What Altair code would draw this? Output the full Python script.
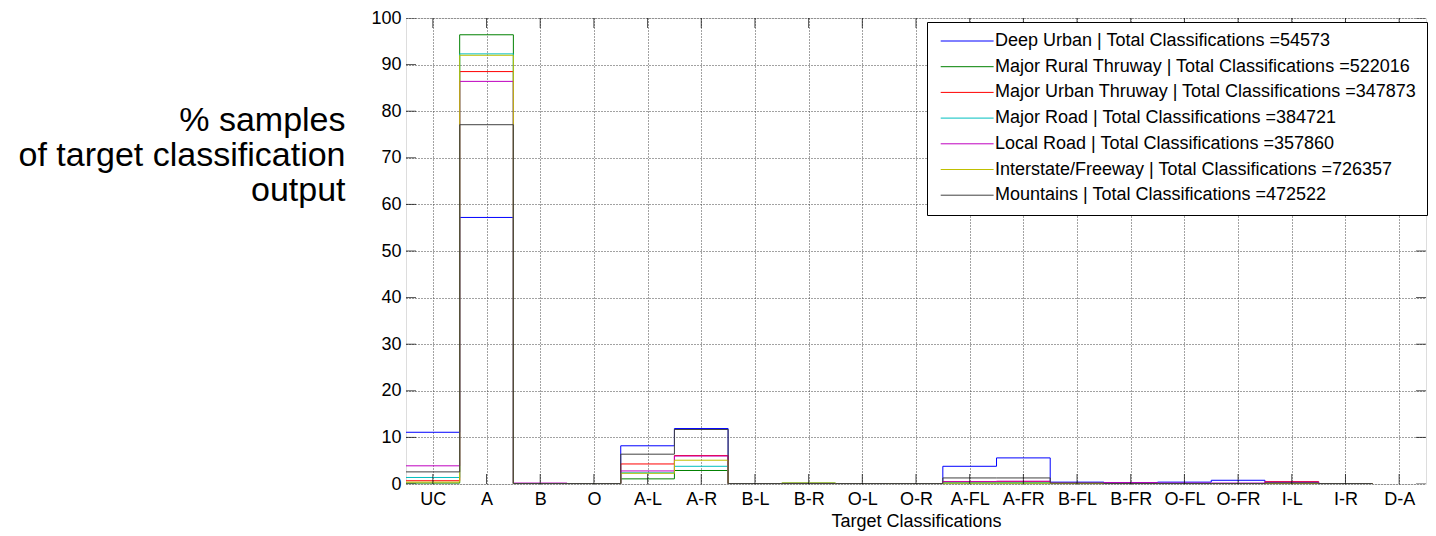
import altair as alt
import pandas as pd

categories = ["UC", "A", "B", "O", "A-L", "A-R", "B-L", "B-R", "O-L", "O-R",
              "A-FL", "A-FR", "B-FL", "B-FR", "O-FL", "O-FR", "I-L", "I-R", "D-A"]

series_names = ["Deep Urban", "Major Rural Thruway", "Major Urban Thruway", "Major Road",
                "Local Road", "Interstate/Freeway", "Mountains"]
totals = [54573, 522016, 347873, 384721, 357860, 726357, 472522]
colors = ["#0000ff", "#008000", "#ff0000", "#00bfbf", "#bf00bf", "#bfbf00", "#404040"]

deep_urban = [11.1, 57.2, 0.1, 0.1, 8.2, 11.9, 0.1, 0.1, 0.1, 0.1, 3.8, 5.6, 0.4, 0.3, 0.4, 0.8, 0.4, 0.1, 0.0]
major_rural = [0.2, 96.4, 0.05, 0.1, 1.1, 2.9, 0.1, 0.2, 0.1, 0.1, 0.2, 0.2, 0.1, 0.2, 0.1, 0.1, 0.2, 0.1, 0.0]
major_urban = [0.7, 88.5, 0.1, 0.1, 4.3, 6.1, 0.1, 0.1, 0.1, 0.1, 0.5, 0.5, 0.1, 0.1, 0.1, 0.1, 0.5, 0.1, 0.0]
major_road = [1.4, 92.3, 0.1, 0.1, 2.4, 3.8, 0.1, 0.1, 0.1, 0.1, 0.3, 0.3, 0.1, 0.1, 0.1, 0.1, 0.2, 0.1, 0.0]
local_road = [3.9, 86.4, 0.2, 0.1, 2.8, 6.0, 0.1, 0.1, 0.1, 0.1, 0.5, 0.6, 0.2, 0.3, 0.2, 0.2, 0.4, 0.1, 0.0]
interstate = [0.4, 92.0, 0.05, 0.1, 2.3, 5.1, 0.1, 0.2, 0.1, 0.1, 0.2, 0.2, 0.1, 0.1, 0.1, 0.1, 0.1, 0.1, 0.0]
mountains = [2.6, 77.1, 0.1, 0.1, 6.4, 11.7, 0.1, 0.1, 0.1, 0.1, 1.3, 1.3, 0.2, 0.1, 0.1, 0.1, 0.2, 0.1, 0.0]

y_ticks = list(range(0, 101, 10))

all_series = [deep_urban, major_rural, major_urban, major_road, local_road, interstate, mountains]
labels = [f"{n} | Total Classifications ={t}" for n, t in zip(series_names, totals)]

rows = []
for k, (lab, vals) in enumerate(zip(labels, all_series)):
    for i, v in enumerate(vals):
        rows.append({"series": lab, "k": k, "idx": i, "value": v})
df = pd.DataFrame(rows)

FONT = "Liberation Sans"
x_max = len(categories) - 0.5
x_scale = alt.Scale(domain=[-0.5, x_max], nice=False, zero=False)
y_scale = alt.Scale(domain=[0, 100], nice=False, zero=False)
label_expr = "[" + ",".join(f'"{c}"' for c in categories) + "][datum.value]"

x_axis = alt.Axis(
    values=list(range(len(categories))), labelExpr=label_expr,
    title="Target Classifications", grid=True, gridDash=[1, 2], gridColor="#444",
    ticks=False, domain=False, labelFont=FONT, labelFontSize=18, labelColor="black",
    labelPadding=6, labelAngle=0, titleFont=FONT, titleFontSize=18,
    titleFontWeight="normal", titleColor="black", titlePadding=4)
y_axis = alt.Axis(
    values=y_ticks, title=["% samples", "of target classification", "output"],
    titleAngle=0, titleAlign="right", titleBaseline="alphabetic", titleX=-61, titleY=112,
    titleFont=FONT, titleFontSize=34, titleLineHeight=35, titleFontWeight="normal",
    titleColor="black", grid=True, gridDash=[1, 2], gridColor="#444", ticks=False,
    domain=False, labelFont=FONT, labelFontSize=18, labelColor="black", labelPadding=5)

lines = alt.Chart(df).transform_calculate(
    pos="datum.idx - 0.5"
).mark_line(interpolate="step-after", strokeWidth=1, clip=True).encode(
    x=alt.X("pos:Q", scale=x_scale, axis=x_axis),
    y=alt.Y("value:Q", scale=y_scale, axis=y_axis),
    color=alt.Color("series:N", sort=labels, scale=alt.Scale(domain=labels, range=colors),
                    legend=alt.Legend(orient="none", legendX=521, legendY=4, title=None,
                                      symbolType="M-1,0H9", symbolSize=112, symbolStrokeWidth=1,
                                      labelFont=FONT, labelFontSize=18, labelColor="black",
                                      labelLimit=0, labelOffset=40, padding=10, rowPadding=7.7,
                                      strokeColor="black", fillColor="white")),
    detail="k:N",
)

xt = pd.DataFrame({"pos": list(range(len(categories)))})
yt = pd.DataFrame({"value": y_ticks})

tick_bottom = alt.Chart(xt).mark_tick(orient="vertical", size=20, thickness=1, color="black", clip=True).encode(
    x=alt.X("pos:Q", scale=x_scale, axis=x_axis), y=alt.datum(0))
tick_top = alt.Chart(xt).mark_tick(orient="vertical", size=20, thickness=1, color="black", clip=True).encode(
    x=alt.X("pos:Q", scale=x_scale, axis=x_axis), y=alt.datum(100))
tick_left = alt.Chart(yt).mark_tick(orient="horizontal", size=20, thickness=1, color="black", clip=True).encode(
    y=alt.Y("value:Q", scale=y_scale, axis=y_axis), x=alt.datum(-0.5))
tick_right = alt.Chart(yt).mark_tick(orient="horizontal", size=20, thickness=1, color="black", clip=True).encode(
    y=alt.Y("value:Q", scale=y_scale, axis=y_axis), x=alt.datum(x_max))

chart = alt.layer(lines, tick_bottom, tick_top, tick_left, tick_right).properties(
    width=1020, height=466,
    autosize=alt.AutoSizeParams(type="none"),
    padding={"left": 398, "top": 10, "right": 2, "bottom": 49},
).configure_view(stroke="black", strokeWidth=1.5).configure(font=FONT)

chart.save("out.html", embed_options={"renderer": "svg", "actions": False})
